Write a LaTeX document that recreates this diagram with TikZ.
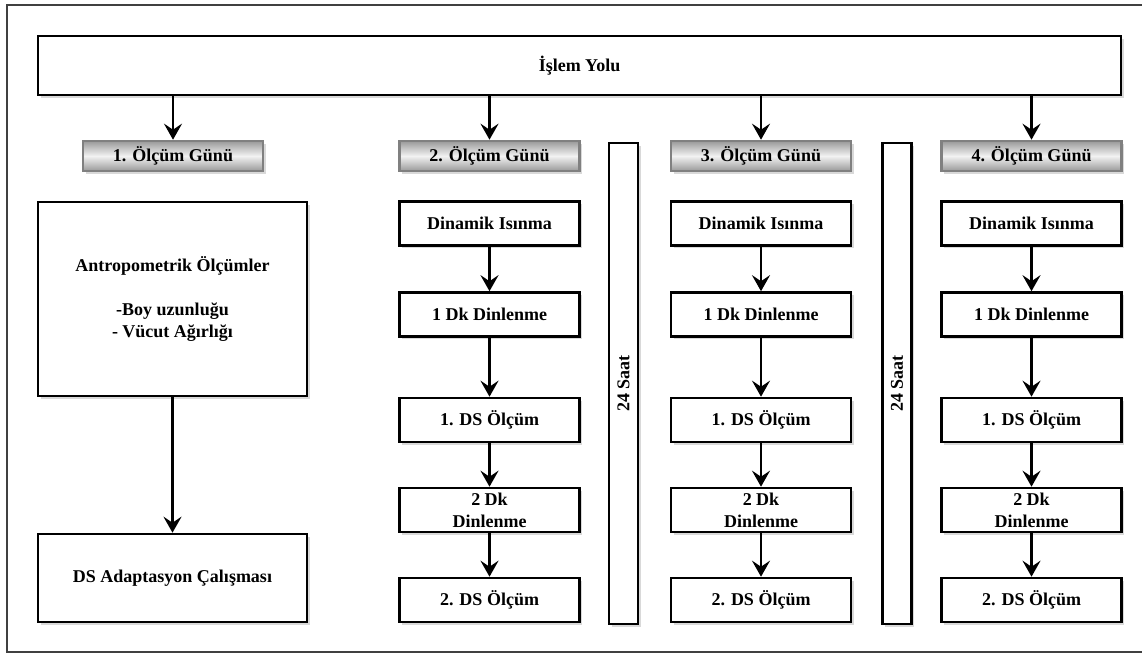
\documentclass[tikz,border=0pt]{standalone}
\usepackage{fontspec}
\setmainfont{Liberation Serif}
\usetikzlibrary{positioning}
\usetikzlibrary{shadows, arrows.meta}

\tikzset{
  kutu/.style={draw=black, line width=2.6pt, fill=white, align=center, inner sep=0pt,
    font=\bfseries\fontsize{18}{22}\selectfont,
    drop shadow={shadow xshift=2.5pt, shadow yshift=-2.5pt, opacity=0.3}},
  adim/.style={kutu, minimum width=180pt, minimum height=44pt},
  gun/.style={kutu, draw=black!50, minimum width=180pt, minimum height=30pt,
    top color=black!40, bottom color=black!40, middle color=black!5},
  saat/.style={kutu, minimum width=29pt, minimum height=481pt},
  ok/.style={line width=2.4pt, -{Stealth[length=16pt,width=18pt,inset=6pt]}}
}

\begin{document}
\begin{tikzpicture}[x=1pt,y=-1pt]
\useasboundingbox (0,0) rectangle (1142,653);
\draw[black!75,line width=2pt] (7,5) rectangle (1150,651.5);

\node[kutu,minimum width=1083pt,minimum height=59pt] (yol) at (579.5,65.5) {İşlem Yolu};

% 1. gun
\node[gun] (g1) at (173,156) {1. Ölçüm Günü};
\node[kutu,minimum width=269pt,minimum height=194pt] (antro) at (172.5,299) {Antropometrik Ölçümler\\[22pt]-Boy uzunluğu\\- Vücut Ağırlığı};
\node[kutu,minimum width=269pt,minimum height=88pt] (adap) at (172.5,578) {DS Adaptasyon Çalışması};

% 2. gun
\node[gun] (g2) at (489.5,156) {2. Ölçüm Günü};
\node[adim] (d2a) at (489.5,223.5) {Dinamik Isınma};
\node[adim] (d2b) at (489.5,314.5) {1 Dk Dinlenme};
\node[adim] (d2c) at (489.5,420) {1. DS Ölçüm};
\node[adim] (d2d) at (489.5,510) {2 Dk\\Dinlenme};
\node[adim] (d2e) at (489.5,600) {2. DS Ölçüm};

\node[saat] (s1) at (623.5,383.5) {\rotatebox{90}{24 Saat}};

% 3. gun
\node[gun] (g3) at (761,156) {3. Ölçüm Günü};
\node[adim] (d3a) at (761,223.5) {Dinamik Isınma};
\node[adim] (d3b) at (761,314.5) {1 Dk Dinlenme};
\node[adim] (d3c) at (761,420) {1. DS Ölçüm};
\node[adim] (d3d) at (761,510) {2 Dk\\Dinlenme};
\node[adim] (d3e) at (761,600) {2. DS Ölçüm};

\node[saat] (s2) at (897,383.5) {\rotatebox{90}{24 Saat}};

% 4. gun
\node[gun] (g4) at (1031.5,156) {4. Ölçüm Günü};
\node[adim] (d4a) at (1031.5,223.5) {Dinamik Isınma};
\node[adim] (d4b) at (1031.5,314.5) {1 Dk Dinlenme};
\node[adim] (d4c) at (1031.5,420) {1. DS Ölçüm};
\node[adim] (d4d) at (1031.5,510) {2 Dk\\Dinlenme};
\node[adim] (d4e) at (1031.5,600) {2. DS Ölçüm};

\draw[ok] (yol.south -| g1.north) -- (g1.north);
\draw[ok] (yol.south -| g2.north) -- (g2.north);
\draw[ok] (yol.south -| g3.north) -- (g3.north);
\draw[ok] (yol.south -| g4.north) -- (g4.north);

\draw[ok] (antro) -- (adap);

\draw[ok] (d2a) -- (d2b);
\draw[ok] (d2b) -- (d2c);
\draw[ok] (d2c) -- (d2d);
\draw[ok] (d2d) -- (d2e);

\draw[ok] (d3a) -- (d3b);
\draw[ok] (d3b) -- (d3c);
\draw[ok] (d3c) -- (d3d);
\draw[ok] (d3d) -- (d3e);

\draw[ok] (d4a) -- (d4b);
\draw[ok] (d4b) -- (d4c);
\draw[ok] (d4c) -- (d4d);
\draw[ok] (d4d) -- (d4e);

\end{tikzpicture}
\end{document}
